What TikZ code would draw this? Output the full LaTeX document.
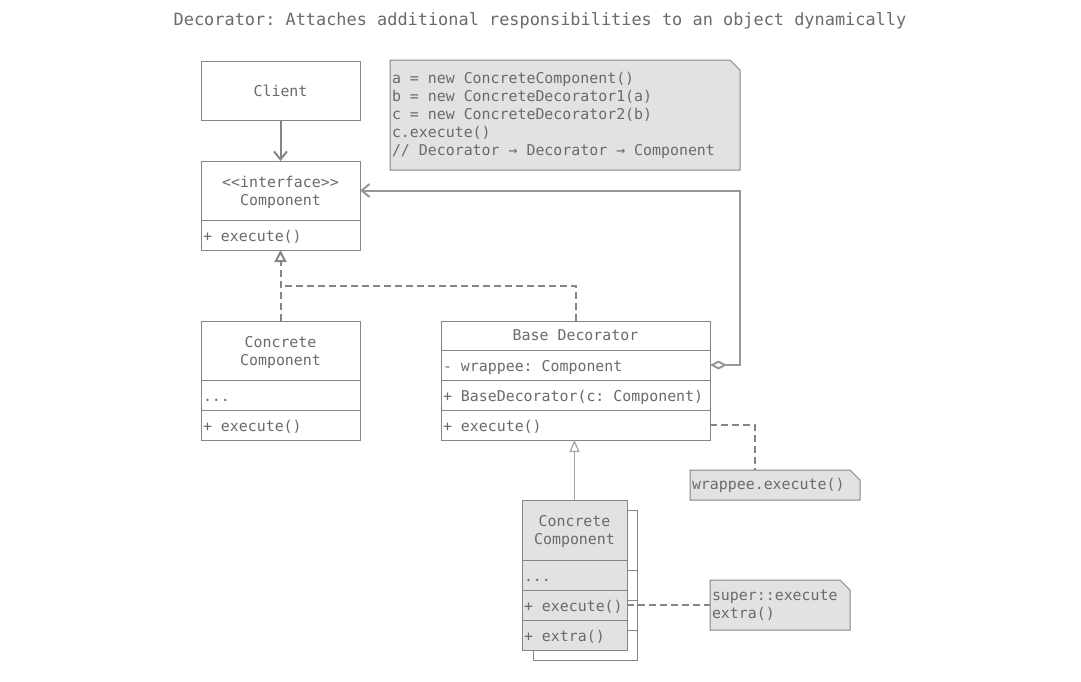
\documentclass[tikz,border=0pt]{standalone}
\usepackage{fontspec}
\setmonofont{DejaVu Sans Mono}
\usepackage{xcolor}
\usetikzlibrary{arrows.meta,positioning,calc,backgrounds}

\definecolor{linegray}{HTML}{858585}
\definecolor{textgray}{HTML}{6A6A6A}
\definecolor{notefill}{HTML}{E2E2E2}

\begin{document}
\begin{tikzpicture}[
  x=1pt, y=-1pt,
  font=\ttfamily\fontsize{14.9}{18}\selectfont,
  % Node styles
  title/.style={text=textgray, font=\ttfamily\fontsize{16.9}{20}\selectfont},
  classhead/.style={rectangle, draw=linegray, line width=1pt, fill=white, text=textgray, align=center, inner sep=2pt, outer sep=0pt, minimum width=#1, minimum height=59pt, text depth=-1pt, anchor=north west},
  member/.style={rectangle, draw=linegray, line width=1pt, fill=white, text=textgray, align=flush left, inner xsep=2pt, inner ysep=0pt, outer sep=0pt, text width=#1, minimum height=30pt, text height=13.5pt, text depth=0pt},
  note/.style={rectangle, draw=none, text=textgray, align=flush left, inner xsep=2pt, inner ysep=0pt, outer sep=0pt, anchor=north west},
  notebg/.style={draw=linegray, line width=1pt, fill=notefill},
  stackbg/.style={draw=linegray, line width=1pt, fill=white},
  % Edge styles
  assoc/.style={-{Straight Barb[length=8pt, width=13pt]}, line width=2pt, color=linegray},
  realize/.style={-{Triangle[open, length=12pt, width=12pt]}, line width=2pt, dash pattern=on 7pt off 4pt, color=linegray},
  dashline/.style={line width=2pt, dash pattern=on 7pt off 4pt, color=linegray},
  aggr/.style={{Diamond[open, length=17pt, width=9pt]}-{Straight Barb[length=8pt, width=13pt]}, line width=2pt, color=linegray!85},
  inherit/.style={-{Triangle[open, length=12pt, width=10pt]}, line width=1.2pt, color=linegray!75},
  notelink/.style={line width=2pt, dash pattern=on 7pt off 4pt, color=linegray}
]
  \useasboundingbox (0,0) rectangle (1081,681);

  % ============================================
  % Title
  % ============================================
  \node[title] (title) at (540,21) {Decorator: Attaches additional responsibilities to an object dynamically};

  % ============================================
  % Client and Component interface
  % ============================================
  \node[classhead=159] (client) at (201,61) {Client};

  \node[classhead=159] (comphead) at (201,161) {<<interface>>\\Component};
  \node[member=155, below right=0pt and 0pt of comphead.south west] (compops) {+ execute()};

  % ============================================
  % Concrete Component
  % ============================================
  \node[classhead=159] (cchead) at (201,321) {Concrete\\Component};
  \node[member=155, below right=0pt and 0pt of cchead.south west] (ccattr) {...};
  \node[member=155, below right=0pt and 0pt of ccattr.south west] (ccops) {+ execute()};

  % ============================================
  % Base Decorator
  % ============================================
  \node[classhead=269, minimum height=29pt] (bdhead) at (441,321) {Base Decorator};
  \node[member=265, below right=0pt and 0pt of bdhead.south west] (bdfield) {- wrappee: Component};
  \node[member=265, below right=0pt and 0pt of bdfield.south west] (bdctor) {+ BaseDecorator(c: Component)};
  \node[member=265, below right=0pt and 0pt of bdctor.south west] (bdexec) {+ execute()};

  % ============================================
  % Concrete Decorators (stacked)
  % ============================================
  \node[classhead=105, minimum height=60pt, fill=notefill] (cdhead) at (522,500) {Concrete\\Component};
  \node[member=101, fill=notefill, below right=0pt and 0pt of cdhead.south west] (cdattr) {...};
  \node[member=101, fill=notefill, below right=0pt and 0pt of cdattr.south west] (cdexec) {+ execute()};
  \node[member=101, fill=notefill, below right=0pt and 0pt of cdexec.south west] (cdextra) {+ extra()};

  % ============================================
  % Notes
  % ============================================
  \node[note, text width=346, minimum height=110pt] (usage) at (390,60)
    {a = new ConcreteComponent()\\b = new ConcreteDecorator1(a)\\c = new ConcreteDecorator2(b)\\c.execute()\\// Decorator → Decorator → Component};
  \node[note, text width=166, minimum height=30pt] (fwd) at (690,470) {wrappee.execute()};
  \node[note, text width=136, minimum height=50pt] (extra) at (710,580) {super::execute\\extra()};

  \begin{scope}[on background layer]
    % folded-corner outlines
    \foreach \n in {usage, fwd, extra}
      \draw[notebg] (\n.north west) -- ([xshift=-10pt]\n.north east) -- ([yshift=-10pt]\n.north east) -- (\n.south east) -- (\n.south west) -- cycle;
    % copy behind the concrete decorator
    \draw[stackbg] ([shift={(11pt,-10pt)}]cdhead.north west) rectangle ([shift={(10pt,-10pt)}]cdextra.south east);
    \foreach \n in {cdhead, cdattr, cdexec}
      \draw[stackbg] ([shift={(10pt,-10pt)}]\n.south west) -- ([shift={(10pt,-10pt)}]\n.south east);
  \end{scope}

  % ============================================
  % Edges
  % ============================================
  \draw[assoc] (client) -- (comphead);

  % realization of the interface
  \coordinate (bend) at ($(compops.south)!0.5!(cchead.north)$);
  \draw[realize] (cchead.north) -- (compops.south);
  \draw[dashline] (bdhead.north) |- (bend);

  % wrappee aggregation
  \draw[aggr] (bdfield.east) -- ++(30,0) |- (comphead.east);

  % inheritance of the concrete decorator
  \draw[inherit] (cdhead.north) -- (cdhead.north |- bdexec.south);

  % note links
  \draw[notelink] (bdexec.east) -| ([xshift=-20pt]fwd.north);
  \draw[notelink] (cdexec.east) -- (extra.west);

\end{tikzpicture}
\end{document}
